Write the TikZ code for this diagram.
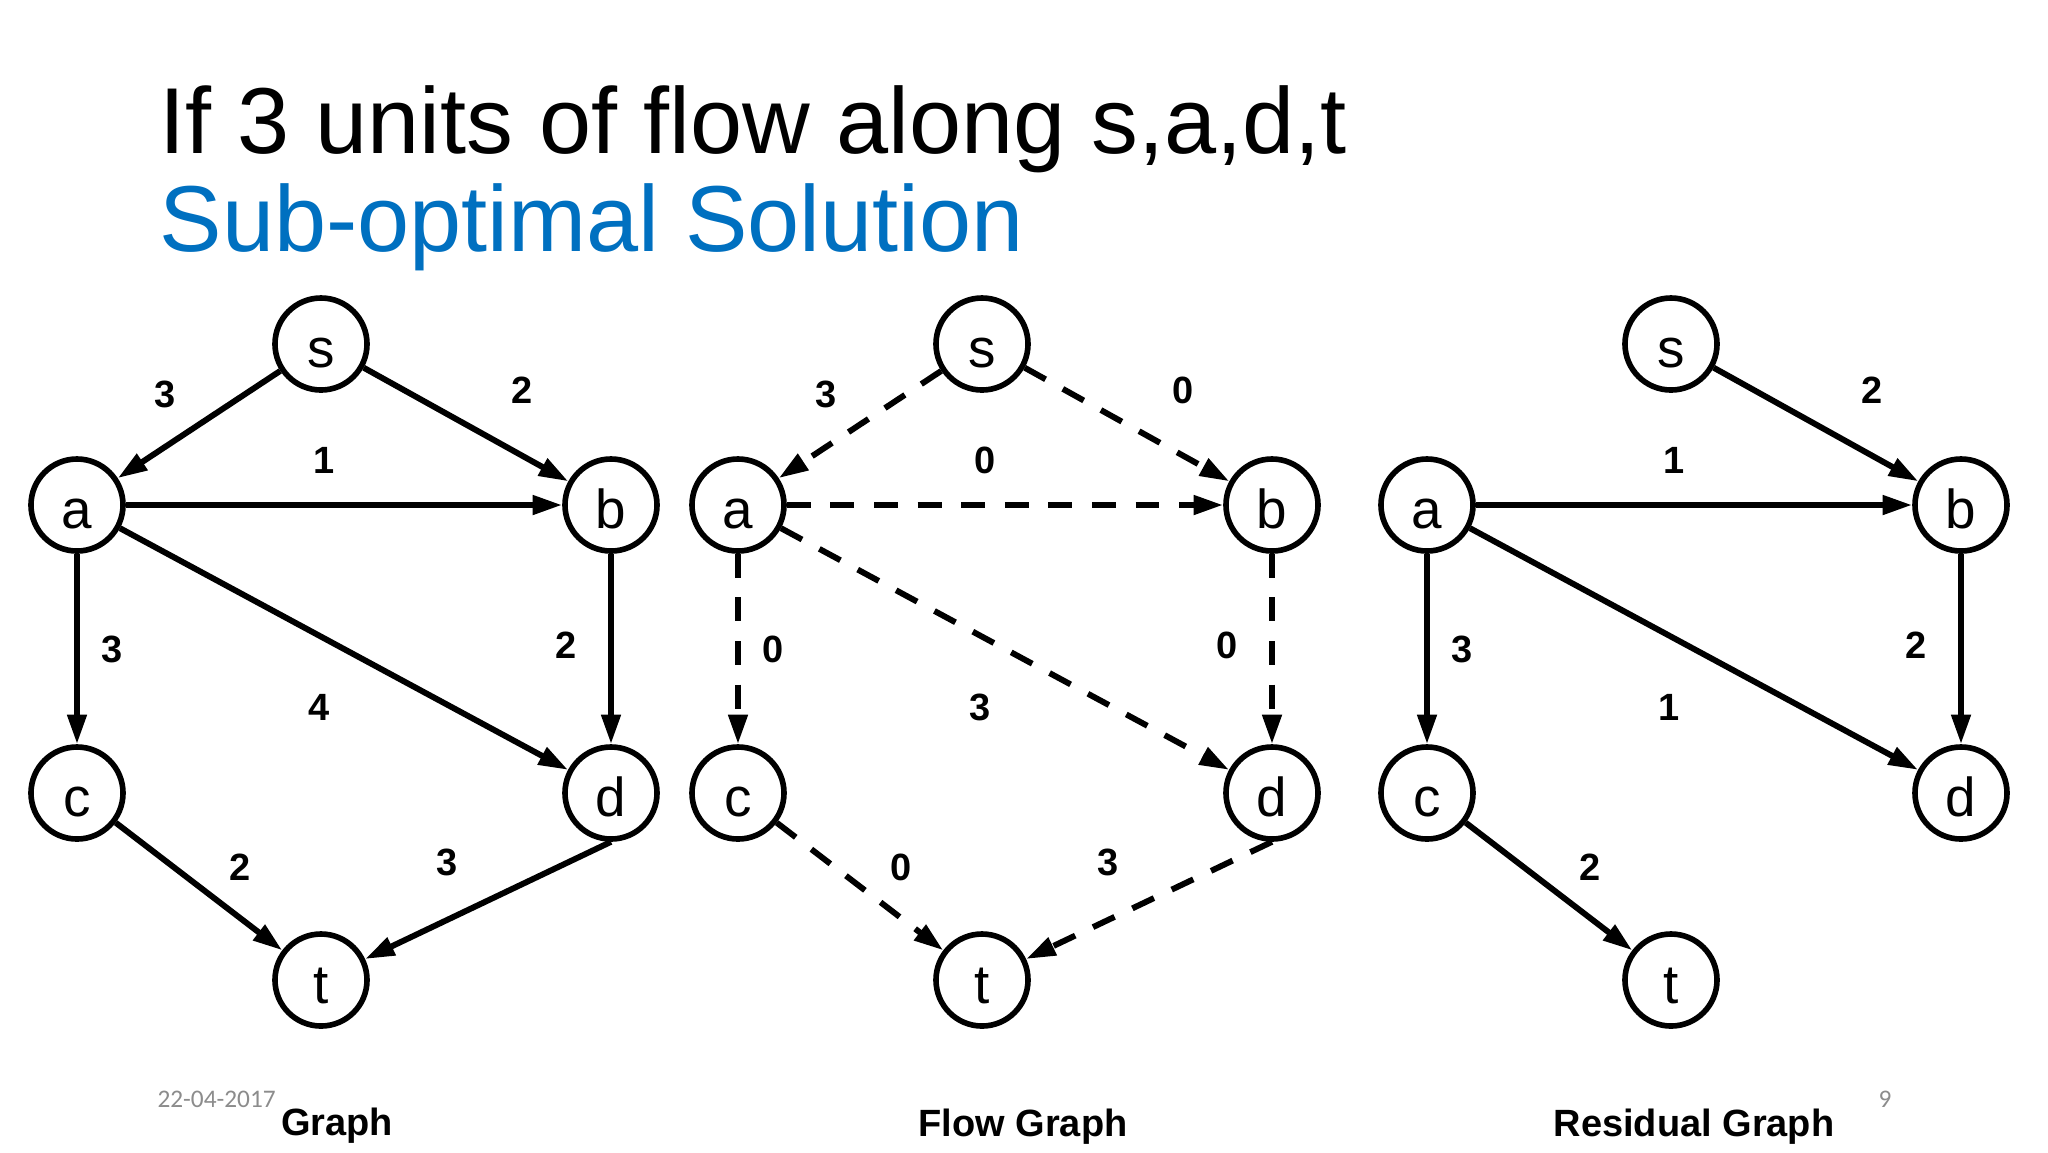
\documentclass[tikz,border=0pt]{standalone}
\usepackage{fontspec}
\setmainfont{Liberation Sans}
\newfontfamily\datefont{Carlito}
\usepackage{tikz}
\usetikzlibrary{arrows.meta}
\definecolor{titleblue}{HTML}{0070C0}
\definecolor{dategray}{HTML}{8C8C8C}
\tikzset{
  vert/.style={circle,draw,line width=2pt,minimum size=1.15cm,inner sep=0pt,
    text height=16.4pt,text depth=0pt,font=\fontsize{19.5}{19.5}\selectfont},
  arc/.style={-{Triangle[length=10.5pt,width=6.6pt]},line width=2.1pt},
  flowarc/.style={arc,dash pattern=on 8.5pt off 7pt},
  wt/.style={font=\fontsize{13.5}{13.5}\selectfont\bfseries},
  caption/.style={anchor=base,font=\fontsize{13.5}{13.5}\selectfont\bfseries}
}
% six vertices of one graph, names prefixed by #1
\newcommand{\graphnodes}[1]{%
  \node[vert] (#1s) at (321,344) {s};
  \node[vert] (#1a) at (77,505)  {a};
  \node[vert] (#1b) at (611,505) {b};
  \node[vert] (#1c) at (77,793)  {c};
  \node[vert] (#1d) at (611,793) {d};
  \node[vert] (#1t) at (321,980) {t};
}

\begin{document}
\begin{tikzpicture}[x=0.0125cm,y=-0.0125cm]
  \fill[white] (0,0) rectangle (2048,1152);
  \useasboundingbox (0,0) rectangle (2048,1152);

  % title
  \node[anchor=base west,inner sep=0pt,font=\fontsize{33.3}{33.3}\selectfont] (title) at (159,153) {If 3 units of flow along s,a,d,t};
  \node[anchor=base west,inner sep=0pt,text=titleblue,font=\fontsize{33.3}{33.3}\selectfont] (subtitle) at (159,251) {Sub-optimal Solution};

  % graph
  \begin{scope}
    \graphnodes{g}
    \draw[arc] (gs) -- (ga) node[wt] at (165,394) {3};
    \draw[arc] (gs) -- (gb) node[wt] at (522,390) {2};
    \draw[arc] (ga) -- (gb) node[wt] at (324,460) {1};
    \draw[arc] (ga) -- (gc) node[wt] at (112,649) {3};
    \draw[arc] (gb) -- (gd) node[wt] at (566,645) {2};
    \draw[arc] (ga) -- (gd) node[wt] at (319,707) {4};
    \draw[arc] (gc) -- (gt) node[wt] at (240,867) {2};
    \draw[arc] (gd.south) -- (gt) node[wt] at (447,862) {3};
  \end{scope}

  % flow graph
  \begin{scope}[xshift=661*0.0125cm]
    \graphnodes{f}
    \draw[flowarc] (fs) -- (fa) node[wt] at (165,394) {3};
    \draw[flowarc] (fs) -- (fb) node[wt] at (522,390) {0};
    \draw[flowarc] (fa) -- (fb) node[wt] at (324,460) {0};
    \draw[flowarc] (fa) -- (fc) node[wt] at (112,649) {0};
    \draw[flowarc] (fb) -- (fd) node[wt] at (566,645) {0};
    \draw[flowarc] (fa) -- (fd) node[wt] at (319,707) {3};
    \draw[flowarc] (fc) -- (ft) node[wt] at (240,867) {0};
    \draw[flowarc] (fd.south) -- (ft) node[wt] at (447,862) {3};
  \end{scope}

  % residual graph
  \begin{scope}[xshift=1350*0.0125cm]
    \graphnodes{r}
    \draw[arc] (rs) -- (rb) node[wt] at (522,390) {2};
    \draw[arc] (ra) -- (rb) node[wt] at (324,460) {1};
    \draw[arc] (ra) -- (rc) node[wt] at (112,649) {3};
    \draw[arc] (rb) -- (rd) node[wt] at (566,645) {2};
    \draw[arc] (ra) -- (rd) node[wt] at (319,707) {1};
    \draw[arc] (rc) -- (rt) node[wt] at (240,867) {2};
  \end{scope}

  % captions and footer
  \node[caption] (capg) at (337,1135) {Graph};
  \node[caption] (capf) at (1023,1136) {Flow Graph};
  \node[caption] (capr) at (1694,1136) {Residual Graph};
  \node[anchor=base west,inner sep=0pt,text=dategray,font=\datefont\fontsize{9}{9}\selectfont] (date) at (157,1107) {22-04-2017};
  \node[anchor=base,inner sep=0pt,text=dategray,font=\datefont\fontsize{9}{9}\selectfont] (page) at (1885,1107) {9};
\end{tikzpicture}
\end{document}
